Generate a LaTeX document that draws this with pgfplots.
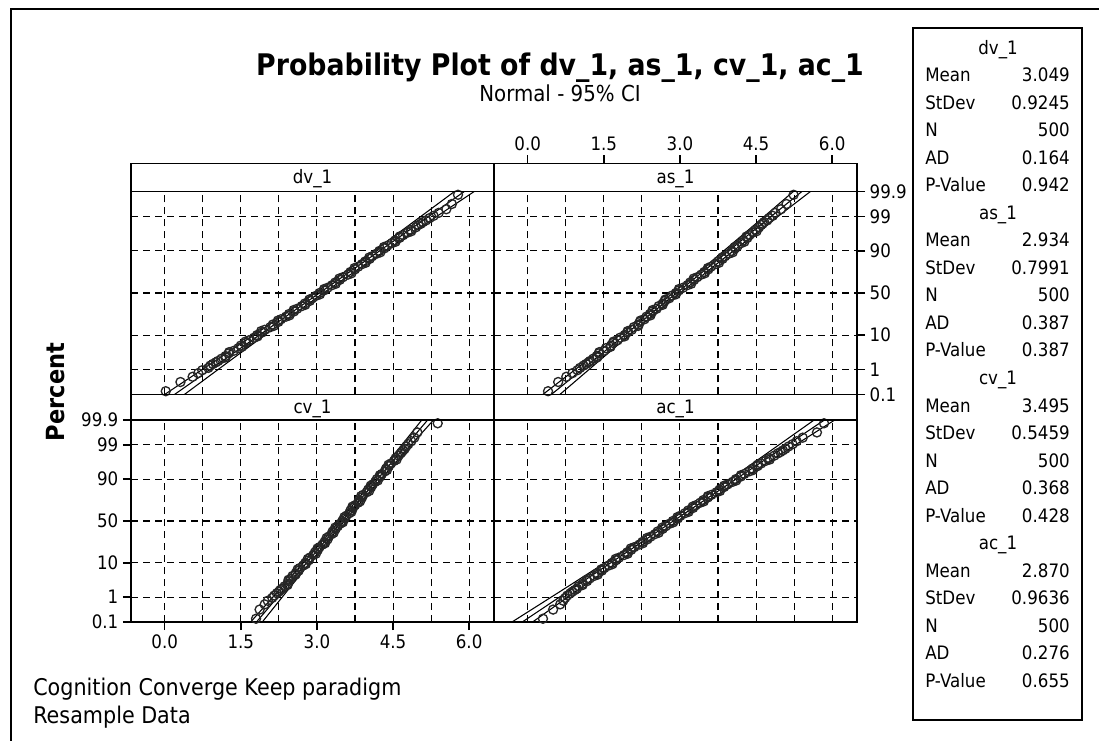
\documentclass[border=0pt]{standalone}
\usepackage{pgfplots}
\pgfplotsset{compat=1.18}
\usepackage{fontspec}
\setmainfont{DejaVu Sans}[FakeStretch=0.9]

\newcommand\labfont{\fontsize{13.9}{16}\selectfont}

% normal probability scale: y is the standard normal quantile of the percent
\pgfplotsset{
  probpanel/.style={
    anchor=south west, scale only axis,
    width=272.25pt,
    xmin=-0.665, xmax=6.49,
    ymin=-3.0902, ymax=3.0902,
    xtick={0,1.5,3,4.5,6},
    minor xtick={0.75,2.25,3.75,5.25},
    ytick={-3.0902,-2.3263,-1.2816,0,1.2816,2.3263,3.0902},
    grid=both,
    major grid style={black, line width=0.8pt, dash pattern=on 5.5pt off 3.5pt},
    minor grid style={black, line width=0.8pt, dash pattern=on 5.5pt off 3.5pt},
    axis line style={black, line width=1.2pt},
    tick align=outside,
    major tick length=0pt, minor tick length=0pt,
    major tick style={black, line width=1pt},
    tick label style={font=\labfont, black},
    xticklabels={,,,,}, yticklabels={,,,,,,},
  },
  withticks/.style={
    major tick length=6pt,
    xticklabels={0.0,1.5,3.0,4.5,6.0},
    yticklabels={0.1,1,10,50,90,99,99.9},
  },
  refline/.style={black, line width=0.8pt, no marks},
  pts/.style={only marks, mark=o, mark size=3.4pt, mark options={black!85, line width=1pt}},
}

\newcommand\statrow[3]{%
  \node[anchor=base west, inner sep=0pt] at (925,#1) {#2};
  \node[anchor=base east, inner sep=0pt] at (1070,#1) {#3};}

\begin{document}
\begin{tikzpicture}
\begin{scope}[x=0.75pt,y=0.75pt]
\useasboundingbox (0,0) rectangle (1099,740);
% outer frame
\draw[line width=1.2pt] (11,-5) -- (11,731) -- (1105,731);
% titles
\node[anchor=base, inner sep=0pt] at (560,664) {\fontsize{22.3}{26}\selectfont\bfseries Probability Plot of dv\_1, as\_1, cv\_1, ac\_1};
\node[anchor=base, inner sep=0pt] at (560,638) {\fontsize{16.5}{20}\selectfont Normal - 95\% CI};
\node[rotate=90, inner sep=0pt] at (56,348) {\fontsize{18.75}{22}\selectfont\bfseries Percent};
% footnote
\node[anchor=base west, inner sep=0pt] at (33,45) {\fontsize{17.25}{21}\selectfont Cognition Converge Keep paradigm};
\node[anchor=base west, inner sep=0pt] at (33,17) {\fontsize{17.25}{21}\selectfont Resample Data};
\end{scope}

% ---------------- dv_1 (top left)
\begin{axis}[probpanel, at={(98.25pt,259.125pt)}, height=152.25pt]
\addplot[refline] coordinates {(0.0906,-3.2) (6.0074,3.2)};
\addplot[refline] coordinates {(-0.1099,-3.2) (0.5732,-2.5) (1.0597,-2) (2.0252,-1) (2.9679,0) (3.8742,1) (4.7577,2) (5.1957,2.5) (5.8069,3.2)};
\addplot[refline] coordinates {(0.2911,-3.2) (0.9024,-2.5) (1.3403,-2) (2.2238,-1) (3.1301,0) (4.0728,1) (5.0383,2) (5.5249,2.5) (6.2079,3.2)};
\addplot[pts] coordinates {
(0.02,-2.99)(0.31,-2.71)(0.55,-2.55)(0.66,-2.44)(0.74,-2.35)(0.86,-2.28)(0.90,-2.21)(0.95,-2.16)(1.01,-2.11)(1.05,-2.07)
(1.12,-2.00)(1.20,-1.92)(1.26,-1.84)(1.36,-1.76)(1.45,-1.68)(1.50,-1.60)(1.60,-1.52)(1.66,-1.44)(1.76,-1.36)(1.82,-1.28)
(1.92,-1.20)(1.97,-1.12)(2.08,-1.04)(2.13,-0.96)(2.24,-0.88)(2.29,-0.80)(2.39,-0.72)(2.45,-0.64)(2.55,-0.56)(2.61,-0.48)
(2.70,-0.40)(2.76,-0.32)(2.86,-0.24)(2.91,-0.16)(2.99,-0.08)(3.05,0.00)(3.14,0.08)(3.21,0.16)(3.30,0.24)(3.36,0.32)
(3.45,0.40)(3.51,0.48)(3.61,0.56)(3.66,0.64)(3.75,0.72)(3.81,0.80)(3.89,0.88)(3.95,0.96)(4.04,1.04)(4.09,1.12)
(4.18,1.20)(4.23,1.28)(4.33,1.36)(4.39,1.44)(4.48,1.52)(4.54,1.60)(4.63,1.68)(4.70,1.76)(4.79,1.84)(4.85,1.92)(4.95,2.00)
(5.00,2.07)(5.05,2.11)(5.09,2.16)(5.15,2.21)(5.22,2.28)(5.30,2.35)(5.40,2.44)(5.55,2.55)(5.66,2.71)(5.78,2.99)};
\addplot[pts] coordinates {
(1.20,-1.96)(1.27,-1.80)(1.52,-1.64)(1.59,-1.48)(1.83,-1.32)(1.90,-1.16)(2.15,-1.00)(2.23,-0.84)(2.46,-0.68)(2.54,-0.52)
(2.77,-0.36)(2.85,-0.20)(3.06,-0.04)(3.14,0.12)(3.37,0.28)(3.44,0.44)(3.68,0.60)(3.74,0.76)(3.96,0.92)(4.03,1.08)
(4.25,1.24)(4.32,1.40)(4.55,1.56)(4.63,1.72)(4.86,1.88)};
\end{axis}

% ---------------- as_1 (top right)
\begin{axis}[probpanel, withticks, at={(370.5pt,259.125pt)}, height=152.25pt,
  xticklabels={,,,,}, xtick style={draw=none},
  ytick pos=right, yticklabel pos=right]
\addplot[refline] coordinates {(0.3769,-3.2) (5.4911,3.2)};
\addplot[refline] coordinates {(0.2037,-3.2) (0.7941,-2.5) (1.2145,-2) (2.0491,-1) (2.8639,0) (3.6473,1) (4.4109,2) (4.7896,2.5) (5.3179,3.2)};
\addplot[refline] coordinates {(0.5501,-3.2) (1.0785,-2.5) (1.4571,-2) (2.2207,-1) (3.0041,0) (3.8189,1) (4.6535,2) (5.0740,2.5) (5.6643,3.2)};
\addplot[pts] coordinates {
(0.40,-2.99)(0.60,-2.71)(0.76,-2.55)(0.88,-2.44)(0.98,-2.35)(1.03,-2.28)(1.10,-2.21)(1.15,-2.16)(1.20,-2.11)(1.23,-2.07)
(1.29,-2.00)(1.36,-1.92)(1.40,-1.84)(1.50,-1.76)(1.54,-1.68)(1.64,-1.60)(1.68,-1.52)(1.77,-1.44)(1.82,-1.36)(1.91,-1.28)
(1.96,-1.20)(2.05,-1.12)(2.09,-1.04)(2.18,-0.96)(2.21,-0.88)(2.30,-0.80)(2.34,-0.72)(2.41,-0.64)(2.46,-0.56)(2.54,-0.48)
(2.58,-0.40)(2.66,-0.32)(2.70,-0.24)(2.79,-0.16)(2.84,-0.08)(2.92,0.00)(2.98,0.08)(3.06,0.16)(3.15,0.24)(3.20,0.32)
(3.28,0.40)(3.34,0.48)(3.42,0.56)(3.48,0.64)(3.56,0.72)(3.61,0.80)(3.70,0.88)(3.75,0.96)(3.84,1.04)(3.89,1.12)
(3.97,1.20)(4.02,1.28)(4.09,1.36)(4.14,1.44)(4.21,1.52)(4.25,1.60)(4.33,1.68)(4.37,1.76)(4.44,1.84)(4.49,1.92)(4.56,2.00)
(4.60,2.07)(4.63,2.11)(4.66,2.16)(4.72,2.21)(4.76,2.28)(4.83,2.35)(4.88,2.44)(4.99,2.55)(5.10,2.71)(5.24,2.99)};
\addplot[pts] coordinates {
(1.37,-1.96)(1.41,-1.80)(1.63,-1.64)(1.69,-1.48)(1.91,-1.32)(1.97,-1.16)(2.18,-1.00)(2.22,-0.84)(2.42,-0.68)(2.46,-0.52)
(2.66,-0.36)(2.71,-0.20)(2.92,-0.04)(2.98,0.12)(3.22,0.28)(3.27,0.44)(3.49,0.60)(3.55,0.76)(3.77,0.92)(3.83,1.08)
(4.04,1.24)(4.08,1.40)(4.27,1.56)(4.31,1.72)(4.51,1.88)};
\end{axis}

% top scale of the upper row, set above the panel strip
\begin{axis}[anchor=south west, scale only axis, at={(370.5pt,259.125pt)},
  width=272.25pt, height=173.25pt,
  xmin=-0.665, xmax=6.49, ymin=0, ymax=1,
  axis x line*=top, axis y line=none,
  axis line style={black, line width=1.2pt},
  xtick={0,1.5,3,4.5,6}, xticklabels={0.0,1.5,3.0,4.5,6.0},
  tick align=outside, major tick length=6pt,
  major tick style={black, line width=1pt},
  tick label style={font=\labfont, black}]
\end{axis}

% ---------------- cv_1 (bottom left)
\begin{axis}[probpanel, withticks, at={(98.25pt,88.5pt)}, height=151.5pt,
  xtick pos=left, xticklabel pos=left, ytick pos=left, yticklabel pos=left]
\addplot[refline] coordinates {(1.7481,-3.2) (5.2419,3.2)};
\addplot[refline] coordinates {(1.6297,-3.2) (2.0331,-2.5) (2.3203,-2) (2.8905,-1) (3.4471,0) (3.9823,1) (4.5039,2) (4.7626,2.5) (5.1235,3.2)};
\addplot[refline] coordinates {(1.8665,-3.2) (2.2275,-2.5) (2.4861,-2) (3.0077,-1) (3.5429,0) (4.0995,1) (4.6697,2) (4.9570,2.5) (5.3603,3.2)};
\addplot[pts] coordinates {
(1.80,-2.99)(1.87,-2.71)(1.97,-2.55)(2.03,-2.44)(2.12,-2.35)(2.16,-2.28)(2.21,-2.21)(2.25,-2.16)(2.28,-2.11)(2.31,-2.07)
(2.36,-2.00)(2.42,-1.92)(2.44,-1.84)(2.49,-1.76)(2.52,-1.68)(2.58,-1.60)(2.64,-1.52)(2.66,-1.44)(2.73,-1.36)(2.77,-1.28)
(2.84,-1.20)(2.86,-1.12)(2.93,-1.04)(2.96,-0.96)(3.02,-0.88)(3.05,-0.80)(3.11,-0.72)(3.15,-0.64)(3.21,-0.56)(3.23,-0.48)
(3.29,-0.40)(3.31,-0.32)(3.37,-0.24)(3.41,-0.16)(3.46,-0.08)(3.50,0.00)(3.55,0.08)(3.58,0.16)(3.64,0.24)(3.66,0.32)
(3.71,0.40)(3.75,0.48)(3.81,0.56)(3.83,0.64)(3.89,0.72)(3.91,0.80)(3.98,0.88)(4.01,0.96)(4.07,1.04)(4.10,1.12)
(4.15,1.20)(4.18,1.28)(4.25,1.36)(4.28,1.44)(4.34,1.52)(4.36,1.60)(4.42,1.68)(4.46,1.76)(4.52,1.84)(4.55,1.92)(4.61,2.00)
(4.65,2.07)(4.67,2.11)(4.70,2.16)(4.73,2.21)(4.76,2.28)(4.80,2.35)(4.86,2.44)(4.92,2.55)(4.98,2.71)(5.38,2.99)};
\addplot[pts] coordinates {
(2.42,-1.96)(2.44,-1.80)(2.58,-1.64)(2.62,-1.48)(2.78,-1.32)(2.82,-1.16)(2.98,-1.00)(3.01,-0.84)(3.16,-0.68)(3.19,-0.52)
(3.33,-0.36)(3.36,-0.20)(3.51,-0.04)(3.54,0.12)(3.68,0.28)(3.70,0.44)(3.85,0.60)(3.87,0.76)(4.03,0.92)(4.06,1.08)
(4.20,1.24)(4.24,1.40)(4.38,1.56)(4.41,1.72)(4.57,1.88)};
\end{axis}

% ---------------- ac_1 (bottom right)
\begin{axis}[probpanel, at={(370.5pt,88.5pt)}, height=151.5pt]
\addplot[refline] coordinates {(-0.2135,-3.2) (5.9535,3.2)};
\addplot[refline] coordinates {(-0.4224,-3.2) (0.2895,-2.5) (0.7965,-2) (1.8029,-1) (2.7855,0) (3.7301,1) (4.6509,2) (5.1075,2.5) (5.7446,3.2)};
\addplot[refline] coordinates {(-0.0046,-3.2) (0.6325,-2.5) (1.0891,-2) (2.0099,-1) (2.9545,0) (3.9371,1) (4.9435,2) (5.4505,2.5) (6.1624,3.2)};
\addplot[pts] coordinates {
(0.30,-2.99)(0.50,-2.71)(0.64,-2.55)(0.70,-2.44)(0.74,-2.35)(0.78,-2.28)(0.84,-2.21)(0.88,-2.16)(0.93,-2.11)(0.97,-2.07)
(1.00,-2.00)(1.08,-1.92)(1.17,-1.84)(1.22,-1.76)(1.31,-1.68)(1.37,-1.60)(1.46,-1.52)(1.51,-1.44)(1.60,-1.36)(1.66,-1.28)
(1.74,-1.20)(1.80,-1.12)(1.90,-1.04)(1.96,-0.96)(2.04,-0.88)(2.10,-0.80)(2.20,-0.72)(2.26,-0.64)(2.36,-0.56)(2.42,-0.48)
(2.51,-0.40)(2.56,-0.32)(2.66,-0.24)(2.72,-0.16)(2.80,-0.08)(2.86,0.00)(2.96,0.08)(3.01,0.16)(3.10,0.24)(3.16,0.32)
(3.26,0.40)(3.31,0.48)(3.40,0.56)(3.46,0.64)(3.55,0.72)(3.62,0.80)(3.72,0.88)(3.78,0.96)(3.87,1.04)(3.94,1.12)
(4.04,1.20)(4.10,1.28)(4.20,1.36)(4.27,1.44)(4.37,1.52)(4.43,1.60)(4.53,1.68)(4.60,1.76)(4.69,1.84)(4.76,1.92)(4.86,2.00)
(4.93,2.07)(4.98,2.11)(5.03,2.16)(5.08,2.21)(5.14,2.28)(5.22,2.35)(5.30,2.44)(5.42,2.55)(5.70,2.71)(5.84,2.99)};
\addplot[pts] coordinates {
(1.08,-1.96)(1.16,-1.80)(1.38,-1.64)(1.45,-1.48)(1.67,-1.32)(1.73,-1.16)(1.97,-1.00)(2.03,-0.84)(2.27,-0.68)(2.35,-0.52)
(2.58,-0.36)(2.65,-0.20)(2.87,-0.04)(2.95,0.12)(3.17,0.28)(3.25,0.44)(3.47,0.60)(3.55,0.76)(3.79,0.92)(3.87,1.08)
(4.11,1.24)(4.20,1.40)(4.44,1.56)(4.53,1.72)(4.77,1.88)};
\end{axis}

\begin{scope}[x=0.75pt,y=0.75pt]
% panel strips
\draw[line width=1.2pt] (131,548.5) rectangle (494,576.5);
\draw[line width=1.2pt] (494,548.5) rectangle (857,576.5);
\draw[line width=1.2pt] (131,320) rectangle (494,345.5);
\draw[line width=1.2pt] (494,320) rectangle (857,345.5);
\node[anchor=base, inner sep=0pt] at (312.5,556) {\labfont dv\_1};
\node[anchor=base, inner sep=0pt] at (675.5,556) {\labfont as\_1};
\node[anchor=base, inner sep=0pt] at (312.5,326.25) {\labfont cv\_1};
\node[anchor=base, inner sep=0pt] at (675.5,326.25) {\labfont ac\_1};
% summary statistics box
\draw[line width=1.2pt] (913,20) rectangle (1082,712);
\begingroup\labfont
\node[anchor=base, inner sep=0pt] at (998,685.5) {dv\_1};
\statrow{658}{Mean}{3.049}
\statrow{630.5}{StDev}{0.9245}
\statrow{603}{N}{500}
\statrow{575.5}{AD}{0.164}
\statrow{548}{P-Value}{0.942}
\node[anchor=base, inner sep=0pt] at (998,520.5) {as\_1};
\statrow{493}{Mean}{2.934}
\statrow{465.5}{StDev}{0.7991}
\statrow{438}{N}{500}
\statrow{410.5}{AD}{0.387}
\statrow{383}{P-Value}{0.387}
\node[anchor=base, inner sep=0pt] at (998,355.5) {cv\_1};
\statrow{328}{Mean}{3.495}
\statrow{300.5}{StDev}{0.5459}
\statrow{273}{N}{500}
\statrow{245.5}{AD}{0.368}
\statrow{218}{P-Value}{0.428}
\node[anchor=base, inner sep=0pt] at (998,190.5) {ac\_1};
\statrow{163}{Mean}{2.870}
\statrow{135.5}{StDev}{0.9636}
\statrow{108}{N}{500}
\statrow{80.5}{AD}{0.276}
\statrow{53}{P-Value}{0.655}
\endgroup
\end{scope}
\end{tikzpicture}
\end{document}
